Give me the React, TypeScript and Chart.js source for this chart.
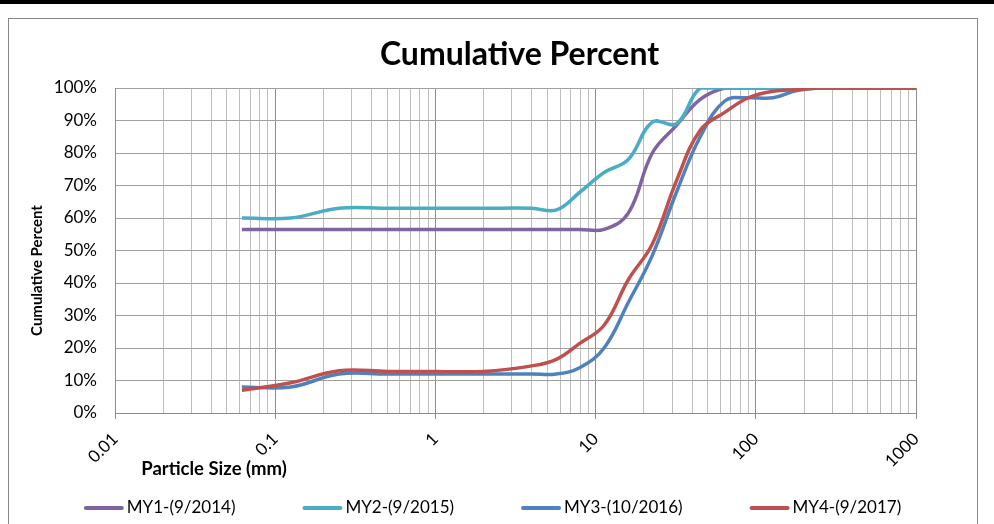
import React, { useEffect, useRef } from "react";
import { Chart, registerables } from "chart.js";

Chart.register(...registerables);

const FONT = "Lato, 'Open Sans', sans-serif";

// Particle size class upper bounds (mm)
const sizesMm = [0.062, 0.125, 0.25, 0.5, 1, 2, 4, 5.7, 8, 11.3, 16, 22.6, 32, 45, 64, 90, 128, 180, 256, 362, 512, 1024];

// Cumulative percent per monitoring year
const my1 = [56.5, 56.5, 56.5, 56.5, 56.5, 56.5, 56.5, 56.5, 56.5, 56.5, 61.5, 80, 88.5, 96.5, 100, 100, 100, 100, 100, 100, 100, 100];
const my2 = [60, 60, 63, 63, 63, 63, 63, 62.5, 68, 74, 78, 89.5, 89, 100, 100, 100, 100, 100, 100, 100, 100, 100];
const my3 = [8, 8, 12, 12, 12, 12, 12, 12, 14, 20, 34, 48.5, 68, 85, 96, 97, 97, 99.2, 100, 100, 100, 100];
const my4 = [7, 9.3, 13, 12.8, 12.8, 12.8, 14.5, 16.5, 21.5, 27, 41, 52, 71.5, 87, 92.5, 97, 99, 99.5, 100, 100, 100, 100];

const seriesLabels = ["MY1-(9/2014)", "MY2-(9/2015)", "MY3-(10/2016)", "MY4-(9/2017)"];
const seriesColors = ["#8064A2", "#4BACC6", "#4F81BD", "#C0504D"];
const seriesValues = [my1, my2, my3, my4];

const majorTicks = [0.01, 0.1, 1, 10, 100, 1000];
const xTickLabels = ["0.01", "0.1", "1", "10", "100", "1000"];
const minorMultipliers = [2, 3, 4, 5, 6, 7, 8, 9];

const chartTitle = "Cumulative Percent";
const xTitle = "Particle Size (mm)";
const yTitle = "Cumulative Percent";

const titlesPlugin = {
  id: "customTitles",
  afterDraw(chart: any) {
    const { ctx, chartArea: a } = chart;
    ctx.save();
    ctx.fillStyle = "#000";
    ctx.textAlign = "center";
    ctx.textBaseline = "alphabetic";
    ctx.font = `bold 32px ${FONT}`;
    ctx.fillText(chartTitle, (a.left + a.right) / 2 + 4, a.top - 23);
    ctx.font = `bold 18.5px ${FONT}`;
    ctx.fillText(xTitle, a.left + 99, a.bottom + 62);
    ctx.save();
    ctx.translate(a.left - 78, (a.top + a.bottom) / 2 + 20);
    ctx.rotate(-Math.PI / 2);
    ctx.textBaseline = "middle";
    ctx.font = `bold 15px ${FONT}`;
    ctx.fillText(yTitle, 0, 0);
    ctx.restore();

    // legend: line samples + labels, centred on the frame
    const ds = chart.data.datasets;
    ctx.font = `17px ${FONT}`;
    ctx.textAlign = "left";
    ctx.textBaseline = "middle";
    const lineLen = 40;
    const textGap = 3;
    const itemGap = 67;
    const widths = ds.map((d: any) => lineLen + textGap + ctx.measureText(d.label).width);
    const total = widths.reduce((s: number, w: number) => s + w, 0) + itemGap * (ds.length - 1);
    let x = 492.5 - total / 2;
    const y = a.bottom + 95;
    ds.forEach((d: any, i: number) => {
      ctx.strokeStyle = d.borderColor;
      ctx.lineWidth = 4;
      ctx.lineCap = "round";
      ctx.beginPath();
      ctx.moveTo(x + 2, y);
      ctx.lineTo(x + lineLen - 2, y);
      ctx.stroke();
      ctx.fillStyle = "#000";
      ctx.fillText(d.label, x + lineLen + textGap, y);
      x += widths[i] + itemGap;
    });
    ctx.restore();
  },
};

const isMajor = (v: number) => majorTicks.some((m) => Math.abs(m - v) / m < 1e-9);

export default function App() {
  const ref = useRef<HTMLCanvasElement | null>(null);

  useEffect(() => {
    if (!ref.current) return;
    const datasets = seriesLabels.map((label, i) => ({
      label,
      data: sizesMm.map((x, j) => ({ x, y: seriesValues[i][j] })),
      borderColor: seriesColors[i],
      backgroundColor: seriesColors[i],
      borderWidth: 3.5,
      pointRadius: 0,
      tension: 0.4,
      fill: false,
      order: seriesLabels.length - 1 - i,
    }));

    const chart = new Chart(ref.current, {
      type: "line",
      data: { datasets },
      plugins: [titlesPlugin],
      options: {
        animation: false,
        responsive: false,
        devicePixelRatio: 1,
        layout: { padding: { left: 0, right: 78, top: 88, bottom: 41 } },
        plugins: {
          title: { display: false },
          tooltip: { enabled: false },
          legend: { display: false },
        },
        scales: {
          x: {
            type: "logarithmic",
            min: 0.01,
            max: 1000,
            afterBuildTicks: (scale: any) => {
              const ticks: any[] = [];
              majorTicks.forEach((m, k) => {
                ticks.push({ value: m, major: true });
                if (k < majorTicks.length - 1) minorMultipliers.forEach((mult) => ticks.push({ value: m * mult, major: false }));
              });
              scale.ticks = ticks;
            },
            afterFit: (scale: any) => {
              scale.height = 70;
            },
            grid: {
              color: (c: any) => (c.tick && isMajor(c.tick.value) ? "#8c8c8c" : "#bdbdbd"),
              tickColor: (c: any) => (c.tick && isMajor(c.tick.value) ? "#8c8c8c" : "rgba(0,0,0,0)"),
              tickLength: 6,
              drawTicks: true,
              lineWidth: 1,
            },
            border: { color: "#8c8c8c" },
            ticks: {
              autoSkip: false,
              maxRotation: 45,
              minRotation: 45,
              padding: 10,
              color: "#000",
              font: { family: FONT, size: 17 },
              callback: (v: any) => {
                const idx = majorTicks.findIndex((m) => Math.abs(m - v) / m < 1e-9);
                return idx >= 0 ? xTickLabels[idx] : "";
              },
            },
          },
          y: {
            min: 0,
            max: 100,
            afterFit: (scale: any) => {
              scale.width = 115;
            },
            grid: { color: "#a0a0a0", drawTicks: false },
            border: { color: "#8c8c8c" },
            ticks: {
              stepSize: 10,
              padding: 18,
              color: "#000",
              font: { family: FONT, size: 17 },
              callback: (v: any) => `${v}%`,
            },
          },
        },
      },
    } as any);
    return () => chart.destroy();
  }, []);

  return (
    <div style={{ position: "fixed", left: 0, top: 0, width: 994, height: 524, background: "#fff" }}>
      <div style={{ position: "absolute", left: 0, top: 0, width: 994, height: 4, background: "#000" }} />
      <div
        style={{
          position: "absolute",
          left: 8,
          top: 18,
          width: 970,
          height: 540,
          border: "1px solid #888",
          boxSizing: "border-box",
        }}
      />
      <canvas ref={ref} width={994} height={524} style={{ position: "absolute", left: 0, top: 0 }} />
    </div>
  );
}
